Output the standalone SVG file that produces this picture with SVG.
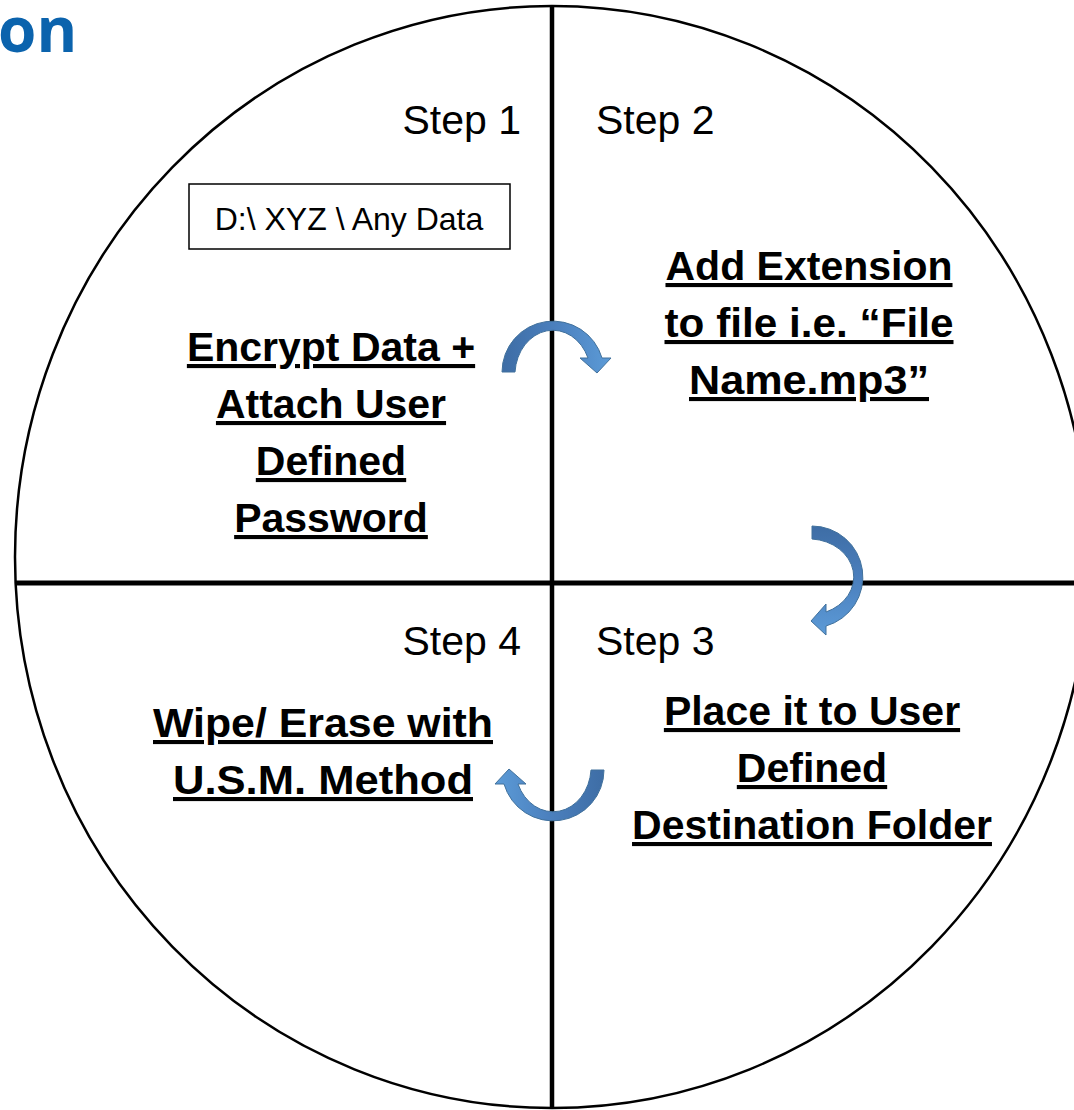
<svg xmlns="http://www.w3.org/2000/svg" width="1074" height="1110" viewBox="0 0 1074 1110">
  <style>
    .title { font-family: "Open Sans", "Liberation Sans", sans-serif; font-weight: 700; font-size: 62px; fill: #0B63AD; }
    .step { font-family: "Liberation Sans", Arial, sans-serif; font-size: 41px; fill: #000; }
    .lbl { font-family: "Liberation Sans", Arial, sans-serif; font-weight: 700; font-size: 41px; fill: #000; text-decoration: underline; text-anchor: middle; }
    .box { font-family: "Liberation Sans", Arial, sans-serif; font-size: 32px; fill: #000; text-anchor: middle; }
    .arrow { fill: url(#arrowGrad); stroke: #41719C; stroke-width: 1; }
  </style>
  <defs>
    <linearGradient id="arrowGrad" x1="0" y1="0" x2="1" y2="0">
      <stop offset="0" stop-color="#3E6DA5"/>
      <stop offset="0.5" stop-color="#4B80BE"/>
      <stop offset="1" stop-color="#5C9BD7"/>
    </linearGradient>
    <path id="curvedArrow" d="M 502 372 A 51 51 0 0 1 602 358 L 611 358 L 597 373 L 580 358 L 588 358 A 38 45 0 0 0 515 372 Z"/>
  </defs>
  <rect width="1074" height="1110" fill="#fff"/>

  <text class="title" x="-2" y="52">on</text>

  <g id="wheel">
    <ellipse cx="552" cy="557" rx="537" ry="551" fill="none" stroke="#000" stroke-width="2.5"/>
  </g>

  <g id="connectors">
    <line x1="552" y1="6" x2="552" y2="1108" stroke="#000" stroke-width="4.5"/>
    <line x1="15" y1="583" x2="1074" y2="583" stroke="#000" stroke-width="5"/>
    <use href="#curvedArrow" class="arrow"/>
    <use href="#curvedArrow" class="arrow" transform="translate(812,577) rotate(90) translate(-553,-372)"/>
    <use href="#curvedArrow" class="arrow" transform="translate(553,770) rotate(180) translate(-553,-372)"/>
  </g>

  <g id="step1">
    <text class="step" x="521" y="134" text-anchor="end">Step 1</text>
    <g id="path-box">
      <rect x="189" y="184" width="321" height="65" fill="#fff" stroke="#000" stroke-width="1.5"/>
      <text class="box" x="349" y="230">D:\ XYZ \ Any Data</text>
    </g>
    <text class="lbl" x="331" y="361">Encrypt Data +</text>
    <text class="lbl" x="331" y="418">Attach User</text>
    <text class="lbl" x="331" y="475">Defined</text>
    <text class="lbl" x="331" y="532">Password</text>
  </g>

  <g id="step2">
    <text class="step" x="596" y="134">Step 2</text>
    <text class="lbl" x="809" y="280">Add Extension</text>
    <text class="lbl" x="809" y="337" textLength="289" lengthAdjust="spacingAndGlyphs">to file i.e. “File</text>
    <text class="lbl" x="809" y="394" textLength="240" lengthAdjust="spacingAndGlyphs">Name.mp3”</text>
  </g>

  <g id="step3">
    <text class="step" x="596" y="655">Step 3</text>
    <text class="lbl" x="812" y="725">Place it to User</text>
    <text class="lbl" x="812" y="782">Defined</text>
    <text class="lbl" x="812" y="839">Destination Folder</text>
  </g>

  <g id="step4">
    <text class="step" x="521" y="655" text-anchor="end">Step 4</text>
    <text class="lbl" x="323" y="737" textLength="340" lengthAdjust="spacingAndGlyphs">Wipe/ Erase with</text>
    <text class="lbl" x="323" y="794" textLength="300" lengthAdjust="spacingAndGlyphs">U.S.M. Method</text>
  </g>
</svg>
